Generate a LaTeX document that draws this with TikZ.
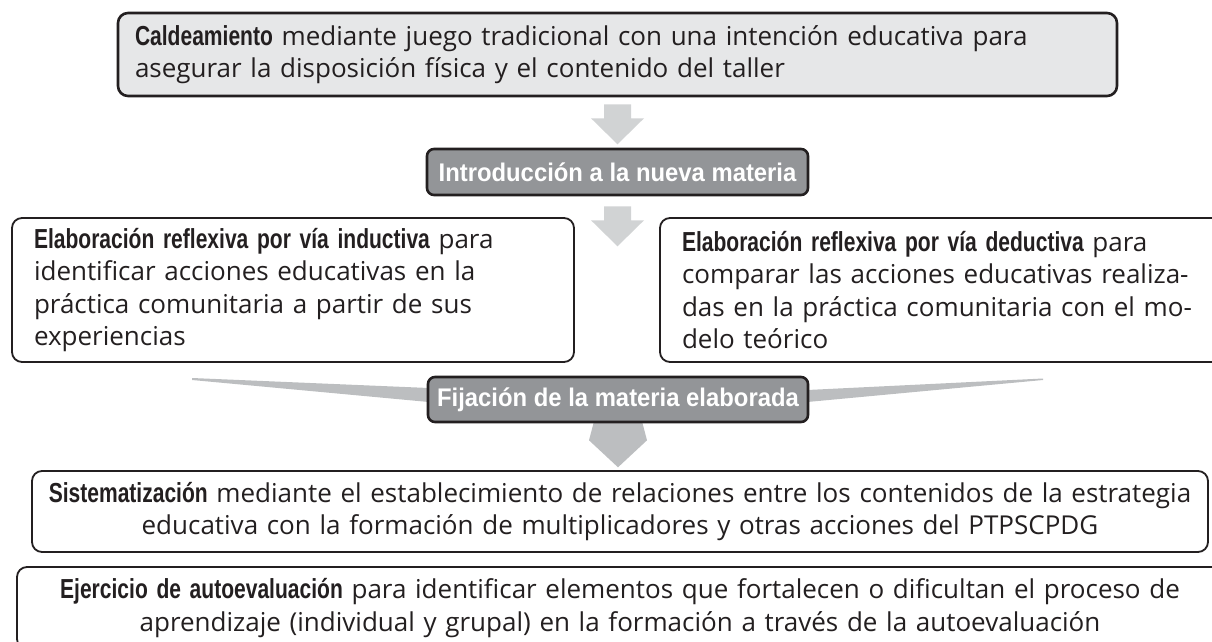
\documentclass[tikz,border=0pt]{standalone}
\usepackage{fontspec}
\setmainfont{Open Sans}
\newfontfamily\condfont{Liberation Sans}[FakeStretch=0.765]
\newfontfamily\darkfont{Liberation Sans}[FakeStretch=0.935]
\usetikzlibrary{calc}
\definecolor{ink}{HTML}{231F20}
\definecolor{paleg}{HTML}{E6E7E8}
\definecolor{darkg}{HTML}{939598}
\definecolor{arrowg}{HTML}{D1D3D4}
\definecolor{wedgeg}{HTML}{BCBEC0}
\newcommand\BoldC[1]{{\condfont\bfseries\fontsize{27.5pt}{32.5pt}\selectfont #1}}
\pgfdeclarelayer{bg}
\pgfsetlayers{bg,main}
\begin{document}
\begin{tikzpicture}[x=1pt,y=-1pt,
  every node/.style={font=\fontsize{26pt}{32.5pt}\selectfont, text=ink},
  whitebox/.style={draw=ink, line width=1.8pt, rounded corners=10pt, fill=white, inner ysep=0pt},
  palebox/.style={draw=ink, line width=2.6pt, rounded corners=10pt, fill=paleg, inner ysep=0pt},
  darkbox/.style={draw=ink, line width=2.6pt, rounded corners=7pt, fill=darkg, text=white,
    font=\darkfont\bfseries\fontsize{25.5pt}{30pt}\selectfont, inner sep=0pt},
  blockarrow/.style={fill=arrowg},
  wedgeshape/.style={fill=wedgeg}]
\useasboundingbox (0,0) rectangle (1212,642);
\begin{scope}
\clip (0,0) rectangle (1212,642);
\node[palebox, minimum width=999pt, minimum height=83pt, text width=965pt, inner xsep=17pt, align=left]
  (cald) at (617.5,54.5)
  {\mbox{\BoldC{Caldeamiento} mediante juego tradicional con una intención educativa para}\\
   \mbox{asegurar la disposición física y el contenido del taller}};
\node[darkbox, minimum width=381pt, minimum height=46pt] (intro) at (617.5,172) {Introducción a la nueva materia};
\node[whitebox, minimum width=562pt, minimum height=144pt, text width=518pt, inner xsep=22pt, align=left]
  (ind) at (293,290)
  {\mbox{\BoldC{Elaboración reflexiva por vía inductiva} para}\\\mbox{identificar acciones educativas en la}\\
   \mbox{práctica comunitaria a partir de sus}\\\mbox{experiencias}};
\node[whitebox, minimum width=562pt, minimum height=144pt, text width=518pt, inner xsep=22pt, align=left]
  (ded) at (941,290)
  {\mbox{\BoldC{Elaboración reflexiva por vía deductiva} para}\\\mbox{comparar las acciones educativas realiza-}\\
   \mbox{das en la práctica comunitaria con el mo-}\\\mbox{delo teórico}};
\node[darkbox, minimum width=380pt, minimum height=45pt] (fij) at (618,399.5) {Fijación de la materia elaborada};
\node[whitebox, minimum width=1176pt, minimum height=81pt, text width=1176pt, inner xsep=0pt, align=center]
  (sis) at (620,511.5)
  {\mbox{\BoldC{Sistematización} mediante el establecimiento de relaciones entre los contenidos de la estrategia}\\
   \mbox{educativa con la formación de multiplicadores y otras acciones del PTPSCPDG}};
\node[whitebox, minimum width=1206pt, minimum height=82pt, text width=1206pt, inner xsep=0pt, align=center]
  (eje) at (620,608)
  {\mbox{\BoldC{Ejercicio de autoevaluación} para identificar elementos que fortalecen o dificultan el proceso de}\\
   \mbox{aprendizaje (individual y grupal) en la formación a través de la autoevaluación}};
% block arrows
\fill[blockarrow] ($(cald.south)+(-13.5,7)$) -- ++(27,0) -- ++(0,14) -- ++(13,0) -- ++(-26.5,26)
  -- ++(-26.5,-26) -- ++(13,0) -- cycle;
\fill[blockarrow] ($(intro.south)+(-13.5,10)$) -- ++(27,0) -- ++(0,14) -- ++(13,0) -- ++(-26.5,26)
  -- ++(-26.5,-26) -- ++(13,0) -- cycle;
\end{scope}
\begin{pgfonlayer}{bg}
\fill[wedgeshape] (192,378) -- ($(fij.west)+(2,-11.5)$) -- ($(fij.west)+(2,2.5)$) -- (192,380) -- cycle;
\fill[wedgeshape] (1043,378.5) -- ($(fij.east)+(-2,-9.5)$) -- ($(fij.east)+(-2,2.5)$) -- (1043,380) -- cycle;
\fill[wedgeshape] ($(fij.south)+(-24,-2)$) -- ($(fij.south)+(24,-2)$) -- ($(fij.south)+(29,17)$)
  -- ($(fij.south)+(0,44)$) -- ($(fij.south)+(-29,17)$) -- cycle;
\end{pgfonlayer}
\end{tikzpicture}
\end{document}
